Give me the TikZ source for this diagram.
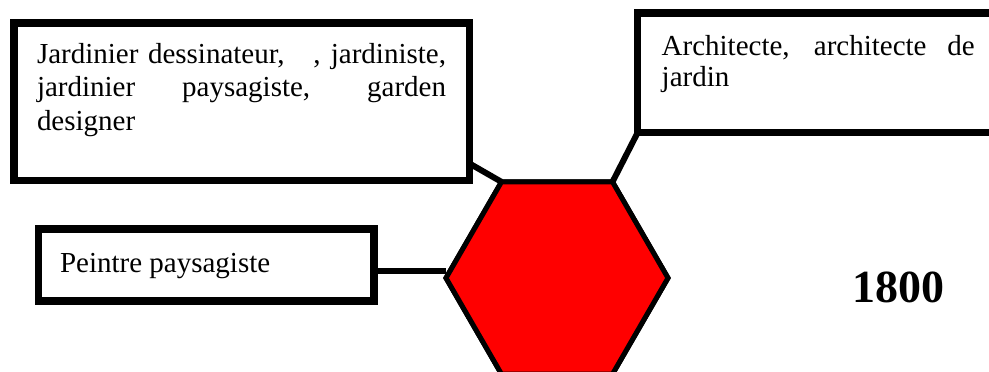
\documentclass[tikz,border=0pt]{standalone}
\usepackage{fontspec}
\setmainfont{Liberation Serif}
\usetikzlibrary{shapes.geometric}
\begin{document}
\begin{tikzpicture}[x=1pt,y=-1pt,
  box/.style={draw=black,line width=7.5pt,fill=white,rectangle,inner sep=0pt,outer sep=0pt},
  link/.style={draw=black,line width=6pt},
  hexa/.style={regular polygon,regular polygon sides=6,minimum size=222pt,inner sep=0pt,outer sep=0pt,
    draw=black,line width=5pt,fill=red},
  lbl/.style={inner sep=0pt,outer sep=0pt,anchor=base west}]
\useasboundingbox (0,0) rectangle (989,372);
\clip (0,0) rectangle (989,372);

% shapes
\node[hexa] (hex) at (557,278) {};
\node[box,minimum width=455.5pt,minimum height=157.5pt] (jard) at (241.75,101.75) {};
\node[box,minimum width=367.3pt,minimum height=119.5pt] (arch) at (821.35,72.75) {};
\node[box,minimum width=335.5pt,minimum height=72pt] (pein) at (206.25,265) {};

% connectors
\coordinate (jardout) at ([yshift=17pt]jard.south east);
\coordinate (peinout) at ([yshift=-6pt]pein.east);
\draw[link] (jardout) -- (hex.120);
\draw[link] (arch.south west) -- (hex.60);
\draw[link] (peinout) -- (peinout -| hex.west);

% hexagon again, over the connector ends
\node[hexa] at (hex) {};

% texts
\node[lbl,font=\fontsize{29}{34}\selectfont] (t1) at (37,63)
  {\parbox[t]{409pt}{\makebox[409pt][s]{Jardinier dessinateur,\ \ \ , jardiniste,}\\
   \makebox[409pt][s]{jardinier paysagiste, garden}\\
   designer}};
\node[lbl,font=\fontsize{29}{32}\selectfont] (t2) at (661.7,55)
  {\parbox[t]{313pt}{\makebox[313pt][s]{Architecte, architecte de}\\
   jardin}};
\node[lbl,font=\fontsize{29}{34}\selectfont] (t3) at (60,272) {Peintre paysagiste};
\node[lbl,font=\fontsize{46}{52}\selectfont\bfseries] (year) at (852,302) {1800};
\end{tikzpicture}
\end{document}
